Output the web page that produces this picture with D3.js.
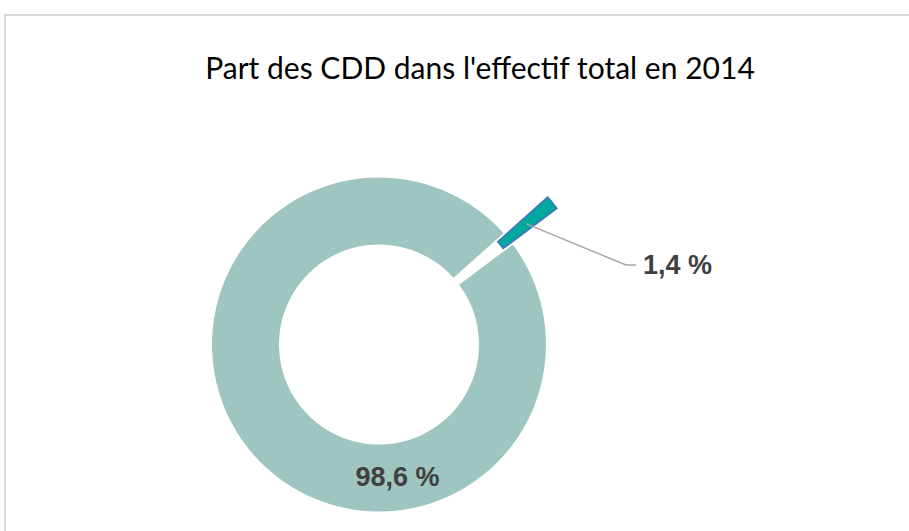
<!DOCTYPE html>
<html>
<head>
<meta charset="utf-8">
<script src="https://cdn.jsdelivr.net/npm/d3@7"></script>
<style>
  body { margin: 0; background: #fff; }
  svg { display: block; }
</style>
</head>
<body>
<script>

var title = "Part des CDD dans l'effectif total en 2014";
var categories = ["CDD", "Autres contrats"];
var values = [1.4, 98.6];
var labels = ["1,4 %", "98,6 %"];

var width = 909, height = 531;
var cx = 379, cy = 344.5;
var outerR = 167, innerR = 100;
var explode = 57;
var deg = Math.PI / 180;

var svg = d3.select("body").append("svg")
    .attr("width", width)
    .attr("height", height);

// cadre du graphique
svg.append("rect")
    .attr("x", 5).attr("y", 15)
    .attr("width", 920).attr("height", 540)
    .attr("fill", "none")
    .attr("stroke", "#d9d9d9")
    .attr("stroke-width", 2);

// titre, ajusté à la largeur voulue
var t = svg.append("text")
    .attr("x", 480).attr("y", 79)
    .attr("text-anchor", "middle")
    .attr("font-family", "Lato, 'Open Sans', sans-serif")
    .attr("font-size", 26)
    .attr("fill", "#000")
    .text(title);
var tw = t.node().getComputedTextLength();
t.attr("font-size", 26 * 550 / tw);

var pie = d3.pie().sort(null)
    .startAngle(48.2 * deg)
    .endAngle(48.2 * deg + 2 * Math.PI);

var arc = d3.arc().innerRadius(innerR).outerRadius(outerR);
var arcs = pie(values);

var colors = ["#00a99d", "#9fc5c1"];

var g = svg.append("g").attr("transform", "translate(" + cx + "," + cy + ")");

arcs.forEach(function(d, i) {
    var mid = (d.startAngle + d.endAngle) / 2;
    var off = i == 0 ? explode : 0;
    var dx = off * Math.sin(mid), dy = -off * Math.cos(mid);
    g.append("path")
        .attr("class", "slice" + i)
        .attr("d", arc(d))
        .attr("transform", "translate(" + dx + "," + dy + ")")
        .attr("fill", colors[i])
        .attr("stroke", i == 0 ? "#4472c4" : "none")
        .attr("stroke-width", 1.5);
});

// étiquette de la petite part avec ligne de rappel
var small = arcs[0];
var c = arc.centroid(small);
var midS = (small.startAngle + small.endAngle) / 2;
var sx = c[0] + explode * Math.sin(midS), sy = c[1] - explode * Math.cos(midS);

g.append("polyline")
    .attr("points", [[sx, sy], [247, -79.5], [257, -79.5]].map(function(p){ return p.join(","); }).join(" "))
    .attr("fill", "none")
    .attr("stroke", "#a6a6a6")
    .attr("stroke-width", 1.5);

g.append("text")
    .attr("x", 264).attr("y", -71)
    .attr("font-family", "'Liberation Sans', Arial, sans-serif")
    .attr("font-weight", "bold")
    .attr("font-size", 27)
    .attr("fill", "#404040")
    .text(labels[0]);

// étiquette de la grande part, en bas de l'anneau
var a = 172 * deg, rr = (innerR + outerR) / 2;
g.append("text")
    .attr("x", rr * Math.sin(a))
    .attr("y", -rr * Math.cos(a) + 9)
    .attr("text-anchor", "middle")
    .attr("font-family", "'Liberation Sans', Arial, sans-serif")
    .attr("font-weight", "bold")
    .attr("font-size", 27)
    .attr("fill", "#404040")
    .text(labels[1]);

</script>
</body>
</html>
